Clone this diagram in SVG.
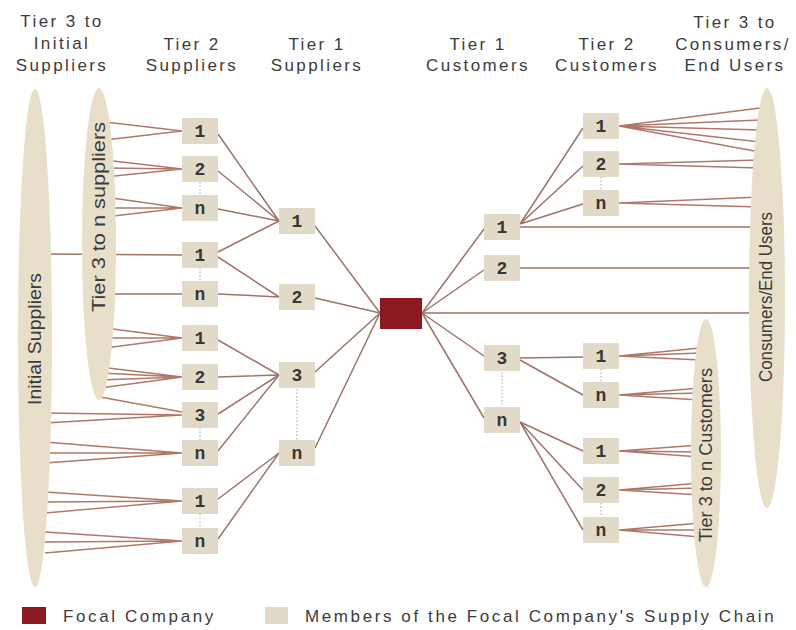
<svg xmlns="http://www.w3.org/2000/svg" width="796" height="630" viewBox="0 0 796 630">
<style>
.hdr{font-family:"Liberation Sans",Arial,sans-serif;font-size:17px;fill:#3c3c3c;text-anchor:middle;letter-spacing:2.4px}
.lg{font-family:"Liberation Sans",Arial,sans-serif;font-size:17px;fill:#3c3c3c;letter-spacing:2.6px}
.rot{font-family:"Liberation Sans",Arial,sans-serif;font-size:18px;fill:#3a3a3a;text-anchor:middle}
.nd{fill:#e2dac9}
.nt{font-family:"Liberation Mono","Courier New",monospace;font-size:18px;font-weight:bold;fill:#3a3632;text-anchor:middle}
.el{fill:#e8dfcb}
.c{stroke:#9c7468;stroke-width:1.5;fill:none}
.f{stroke:#b0786a;stroke-width:1.4;fill:none}
.dot{stroke:#b8b2a8;stroke-width:1.2;stroke-dasharray:1.5 2;fill:none}
</style>
<rect width="796" height="630" fill="#ffffff"/>

<g id="headers">
<text class="hdr" x="62" y="27">Tier 3 to</text>
<text class="hdr" x="62" y="49">Initial</text>
<text class="hdr" x="62" y="71">Suppliers</text>
<text class="hdr" x="192" y="50">Tier 2</text>
<text class="hdr" x="192" y="71">Suppliers</text>
<text class="hdr" x="317" y="50">Tier 1</text>
<text class="hdr" x="317" y="71">Suppliers</text>
<text class="hdr" x="478" y="50">Tier 1</text>
<text class="hdr" x="478" y="71">Customers</text>
<text class="hdr" x="607" y="50">Tier 2</text>
<text class="hdr" x="607" y="71">Customers</text>
<text class="hdr" x="735" y="28">Tier 3 to</text>
<text class="hdr" x="733" y="50">Consumers/</text>
<text class="hdr" x="735" y="71">End Users</text>
</g>

<g id="connectors">
<path class="f" d="M105 122L182 131M105 140L182 131"/>
<path class="f" d="M105 160L182 169M105 168L182 169M105 177L182 169"/>
<path class="f" d="M105 197L182 208M105 208L182 208M105 217L182 208"/>
<path class="c" d="M45 254L182 255"/>
<path class="c" d="M105 294L182 294"/>
<path class="f" d="M105 328L182 338M105 338L182 338M105 348L182 338"/>
<path class="f" d="M100 367L182 377M100 373L182 377M100 380L182 377M100 388L182 377"/>
<path class="f" d="M100 397L182 412M45 413L182 415M45 423L182 415"/>
<path class="f" d="M45 442L182 453M45 453L182 453M45 463L182 453"/>
<path class="f" d="M45 492L182 501M45 502L182 501M45 513L182 501"/>
<path class="f" d="M45 532L182 541M45 542L182 541M45 553L182 541"/>
<path class="c" d="M218 134L279 221M218 171L279 221M218 209L279 221M218 252L279 221"/>
<path class="c" d="M218 257L279 297M218 294L279 297"/>
<path class="c" d="M218 340L279 375M218 377L279 375M218 414L279 375M218 451L279 375"/>
<path class="c" d="M218 499L279 453M218 539L279 453"/>
<path class="c" d="M315 226L380 313M315 298L380 313M315 372L380 313M315 448L380 313"/>
<path class="c" d="M422 313L484 229M422 313L484 270M422 313L484 356M422 313L484 418M422 313L760 313"/>
<path class="c" d="M520 224L583 128M520 224L583 166M520 224L583 204M520 227L760 227"/>
<path class="c" d="M520 268L760 268"/>
<path class="c" d="M520 358L583 357M520 360L583 395"/>
<path class="c" d="M520 422L583 451M520 422L583 490M520 422L583 530"/>
<path class="f" d="M619 126L760 108M619 126L760 120M619 126L760 130M619 126L760 142M619 126L760 152"/>
<path class="f" d="M619 164L760 160M619 164L760 168"/>
<path class="f" d="M619 203L760 197M619 203L760 207"/>
<path class="f" d="M619 356L700 348M619 356L700 353M619 356L700 360"/>
<path class="f" d="M619 395L700 388M619 395L700 393M619 395L700 400"/>
<path class="f" d="M619 451L700 445M619 451L700 452M619 451L700 457"/>
<path class="f" d="M619 490L700 483M619 490L700 488M619 490L700 495"/>
<path class="f" d="M619 530L700 523M619 530L700 530M619 530L700 537"/>
<path class="dot" d="M297 389V440M502 372V407"/>
<path class="dot" d="M200 182V195M200 268V281M200 428V440M200 514V528M601 177V190M601 369V382M601 503V517"/>
</g>

<g id="initial-suppliers">
<ellipse class="el" cx="35" cy="338" rx="17" ry="249"/>
<text class="rot" transform="translate(35 339) rotate(-90)" y="6" textLength="132" lengthAdjust="spacingAndGlyphs">Initial Suppliers</text>
</g>
<g id="tier3-suppliers">
<ellipse class="el" cx="99" cy="244" rx="17" ry="156"/>
<text class="rot" transform="translate(99 217) rotate(-90)" y="6" textLength="190" lengthAdjust="spacingAndGlyphs">Tier 3 to n suppliers</text>
</g>
<g id="consumers">
<ellipse class="el" cx="767" cy="298" rx="18" ry="210"/>
<text class="rot" transform="translate(766 297) rotate(-90)" y="6" textLength="170" lengthAdjust="spacingAndGlyphs">Consumers/End Users</text>
</g>
<g id="tier3-customers">
<ellipse class="el" cx="706" cy="453" rx="15" ry="134"/>
<text class="rot" transform="translate(706 455) rotate(-90)" y="6" textLength="174" lengthAdjust="spacingAndGlyphs">Tier 3 to n Customers</text>
</g>

<g id="s2-1"><rect class="nd" x="182" y="118" width="36" height="26"/><text class="nt" x="200" y="137">1</text></g>
<g id="s2-2"><rect class="nd" x="182" y="156" width="36" height="26"/><text class="nt" x="200" y="175">2</text></g>
<g id="s2-n"><rect class="nd" x="182" y="195" width="36" height="26"/><text class="nt" x="200" y="214">n</text></g>
<g id="s2-1b"><rect class="nd" x="182" y="242" width="36" height="26"/><text class="nt" x="200" y="261">1</text></g>
<g id="s2-nb"><rect class="nd" x="182" y="281" width="36" height="26"/><text class="nt" x="200" y="300">n</text></g>
<g id="s2-1c"><rect class="nd" x="182" y="325" width="36" height="26"/><text class="nt" x="200" y="344">1</text></g>
<g id="s2-2c"><rect class="nd" x="182" y="364" width="36" height="26"/><text class="nt" x="200" y="383">2</text></g>
<g id="s2-3c"><rect class="nd" x="182" y="402" width="36" height="26"/><text class="nt" x="200" y="421">3</text></g>
<g id="s2-nc"><rect class="nd" x="182" y="440" width="36" height="26"/><text class="nt" x="200" y="459">n</text></g>
<g id="s2-1d"><rect class="nd" x="182" y="488" width="36" height="26"/><text class="nt" x="200" y="507">1</text></g>
<g id="s2-nd"><rect class="nd" x="182" y="528" width="36" height="26"/><text class="nt" x="200" y="547">n</text></g>

<g id="s1-1"><rect class="nd" x="279" y="208" width="36" height="26"/><text class="nt" x="297" y="227">1</text></g>
<g id="s1-2"><rect class="nd" x="279" y="284" width="36" height="26"/><text class="nt" x="297" y="303">2</text></g>
<g id="s1-3"><rect class="nd" x="279" y="362" width="36" height="26"/><text class="nt" x="297" y="381">3</text></g>
<g id="s1-n"><rect class="nd" x="279" y="440" width="36" height="26"/><text class="nt" x="297" y="459">n</text></g>

<g id="focal"><rect x="380" y="298" width="42" height="31" fill="#8c1822"/></g>

<g id="c1-1"><rect class="nd" x="484" y="214" width="36" height="26"/><text class="nt" x="502" y="233">1</text></g>
<g id="c1-2"><rect class="nd" x="484" y="255" width="36" height="26"/><text class="nt" x="502" y="274">2</text></g>
<g id="c1-3"><rect class="nd" x="484" y="345" width="36" height="26"/><text class="nt" x="502" y="364">3</text></g>
<g id="c1-n"><rect class="nd" x="484" y="407" width="36" height="26"/><text class="nt" x="502" y="426">n</text></g>

<g id="c2-1"><rect class="nd" x="583" y="113" width="36" height="26"/><text class="nt" x="601" y="132">1</text></g>
<g id="c2-2"><rect class="nd" x="583" y="151" width="36" height="26"/><text class="nt" x="601" y="170">2</text></g>
<g id="c2-n"><rect class="nd" x="583" y="190" width="36" height="26"/><text class="nt" x="601" y="209">n</text></g>
<g id="c2-1b"><rect class="nd" x="583" y="343" width="36" height="26"/><text class="nt" x="601" y="362">1</text></g>
<g id="c2-nb"><rect class="nd" x="583" y="382" width="36" height="26"/><text class="nt" x="601" y="401">n</text></g>
<g id="c2-1c"><rect class="nd" x="583" y="438" width="36" height="26"/><text class="nt" x="601" y="457">1</text></g>
<g id="c2-2c"><rect class="nd" x="583" y="477" width="36" height="26"/><text class="nt" x="601" y="496">2</text></g>
<g id="c2-nc"><rect class="nd" x="583" y="517" width="36" height="26"/><text class="nt" x="601" y="536">n</text></g>

<g id="legend">
<rect x="22" y="607" width="24" height="17" fill="#8c1822"/>
<text class="lg" x="63" y="622">Focal Company</text>
<rect x="265" y="607" width="23" height="17" fill="#e2dac9"/>
<text class="lg" x="305" y="622">Members of the Focal Company's Supply Chain</text>
</g>
</svg>
